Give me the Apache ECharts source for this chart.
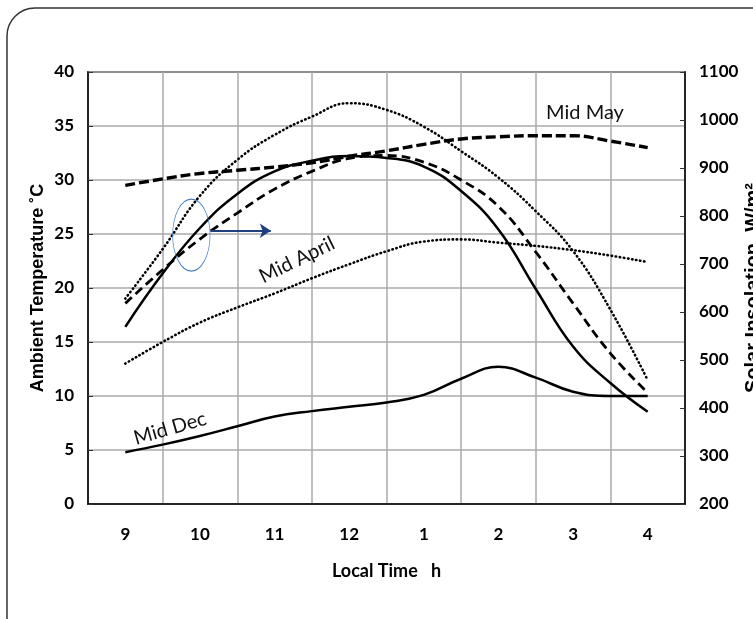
<!DOCTYPE html>
<html>
<head>
<meta charset="utf-8">
<script src="https://cdn.jsdelivr.net/npm/echarts@6/dist/echarts.min.js"></script>
<style>
    html, body { margin: 0; padding: 0; background: #fff; }
    #chart { width: 753px; height: 619px; }
</style>
</head>
<body>
<div id="chart"></div>
<script>
// Data
// ------------------------------

// Time of day (24 h clock), half-hour steps
var hours = [9, 9.5, 10, 10.5, 11, 11.5, 12, 12.5, 13, 13.5, 14, 14.5, 15, 15.5, 16];

// Category labels on the time axis
var timeLabels = ['9', '10', '11', '12', '1', '2', '3', '4'];

// Ambient temperature, deg C (left axis)
var tempMidMay   = [29.5, 30.1, 30.6, 30.9, 31.2, 31.6, 32.2, 32.7, 33.3, 33.8, 34.0, 34.1, 34.1, 33.6, 33.0];
var tempMidApril = [13.0, 15.0, 16.8, 18.2, 19.5, 20.9, 22.2, 23.4, 24.3, 24.5, 24.2, 23.9, 23.5, 23.0, 22.4];
var tempMidDec   = [4.8, 5.5, 6.3, 7.2, 8.1, 8.6, 9.0, 9.4, 10.1, 11.6, 12.7, 11.7, 10.4, 10.0, 10.0];

// Solar insolation, W/m2 (right axis)
var insolSolid  = [569, 680, 775, 846, 893, 915, 925, 921, 903, 852, 772, 648, 528, 452, 392];
var insolDashed = [618, 688, 752, 806, 856, 893, 920, 926, 912, 875, 820, 725, 618, 514, 432];
var insolDotted = [628, 731, 842, 917, 969, 1007, 1035, 1021, 986, 935, 880, 810, 727, 605, 458];


// Chart
// ------------------------------

var labelFont = 'Lato, "Open Sans", sans-serif';
var titleFont = '"Liberation Sans", Arial, sans-serif';

var solid = { color: '#000', width: 2.5, type: 'solid' };
var dotted = { color: '#000', width: 2.6, type: [0.5, 3.6], cap: 'round' };

function curve(name, values, yIndex, style) {
    return {
        name: name,
        type: 'line',
        xAxisIndex: 1,
        yAxisIndex: yIndex,
        smooth: 0.45,
        symbol: 'none',
        lineStyle: style,
        data: hours.map(function(h, i) { return [h, values[i]]; })
    };
}

var tickLabel = { fontFamily: labelFont, fontWeight: 'bold', fontSize: 17, color: '#000', margin: 14 };

var chartElement = document.getElementById('chart');
var chart = echarts.init(chartElement);

var maySeries = curve('Mid May', tempMidMay, 0, { color: '#000', width: 3.4, type: [10, 4] });
maySeries.markLine = {
    silent: true,
    symbol: ['none', 'arrow'],
    symbolSize: [11, 11],
    label: { show: false },
    lineStyle: { color: '#1f3f7f', width: 2, type: 'solid' },
    data: [[{ coord: [10.14, 25.3] }, { coord: [10.95, 25.3] }]]
};

chart.setOption({
    animation: false,
    textStyle: { fontFamily: labelFont },
    grid: {
        left: 88,
        right: 68,
        top: 72,
        bottom: 115,
        outerBoundsMode: 'none',
        containLabel: false,
        show: true,
        borderColor: '#000',
        borderWidth: 1.5
    },
    xAxis: [
        {
            type: 'category',
            data: timeLabels,
            boundaryGap: true,
            name: 'Local Time   h',
            nameLocation: 'middle',
            nameGap: 58,
            nameTextStyle: { fontFamily: labelFont, fontWeight: 'bold', fontSize: 18, color: '#000' },
            axisLine: { lineStyle: { color: '#000', width: 1.5 } },
            axisTick: { inside: true, length: 5, lineStyle: { color: '#333' } },
            axisLabel: Object.assign({}, tickLabel, { margin: 22 }),
            splitLine: { show: true, lineStyle: { color: '#aaa', width: 1.5 } }
        },
        {
            type: 'value',
            min: 8.5,
            max: 16.5,
            show: false
        }
    ],
    yAxis: [
        {
            type: 'value',
            position: 'left',
            min: 0,
            max: 40,
            interval: 5,
            name: 'Ambient Temperature ˚C',
            nameLocation: 'middle',
            nameRotate: 90,
            nameGap: 41,
            nameMoveOverlap: false,
            nameTextStyle: { fontFamily: titleFont, fontWeight: 'bold', fontSize: 18, color: '#000' },
            axisLine: { show: true, lineStyle: { color: '#000', width: 1.5 } },
            axisTick: { show: true, inside: true, length: 5, lineStyle: { color: '#333' } },
            axisLabel: tickLabel,
            splitLine: { show: true, lineStyle: { color: '#aaa', width: 1.5 } }
        },
        {
            type: 'value',
            position: 'right',
            min: 200,
            max: 1100,
            interval: 100,
            name: 'Solar Insolation  W/m²',
            nameLocation: 'middle',
            nameRotate: 90,
            nameGap: 58,
            nameMoveOverlap: false,
            nameTextStyle: { fontFamily: titleFont, fontWeight: 'bold', fontSize: 20, color: '#000' },
            axisLine: { show: true, lineStyle: { color: '#000', width: 1.5 } },
            axisTick: { show: true, inside: true, length: 5, lineStyle: { color: '#333' } },
            axisLabel: Object.assign({}, tickLabel, {
                formatter: function(v) { return String(v); }
            }),
            splitLine: { show: false }
        }
    ],
    series: [
        maySeries,
        curve('Mid April', tempMidApril, 0, dotted),
        curve('Mid Dec', tempMidDec, 0, solid),
        curve('Insolation solid', insolSolid, 1, solid),
        curve('Insolation dashed', insolDashed, 1, { color: '#000', width: 2.8, type: [9, 5] }),
        curve('Insolation dotted', insolDotted, 1, dotted)
    ]
});


// Annotations (placed in data coordinates)
// ------------------------------

function px(h, t) {
    return chart.convertToPixel({ xAxisIndex: 1, yAxisIndex: 0 }, [h, t]);
}

var mayPos = px(15.16, 36.2);
var aprilPos = px(11.3, 22.6);
var decPos = px(9.6, 7.0);
var ringPos = px(9.885, 24.9);

function label(text, pos, angle) {
    return {
        type: 'text',
        x: pos[0],
        y: pos[1],
        rotation: angle * Math.PI / 180,
        z: 10,
        style: {
            text: text,
            fontFamily: labelFont,
            fontSize: 20,
            fill: '#111',
            align: 'center',
            verticalAlign: 'middle'
        }
    };
}

chart.setOption({
    graphic: [
        {
            type: 'rect',
            z: -1,
            silent: true,
            shape: { x: 7, y: 8, width: 900, height: 800, r: 28 },
            style: { fill: 'none', stroke: '#333', lineWidth: 1.5 }
        },
        label('Mid May', mayPos, 0),
        label('Mid April', aprilPos, 26),
        label('Mid Dec', decPos, 16),
        {
            type: 'circle',
            x: ringPos[0],
            y: ringPos[1],
            scaleX: 0.52,
            z: 10,
            shape: { cx: 0, cy: 0, r: 36 },
            style: { fill: 'none', stroke: '#4a7fc0', lineWidth: 1.3, strokeNoScale: true }
        }
    ]
});

window.addEventListener('resize', function() {
    chart.resize();
});
</script>
</body>
</html>
